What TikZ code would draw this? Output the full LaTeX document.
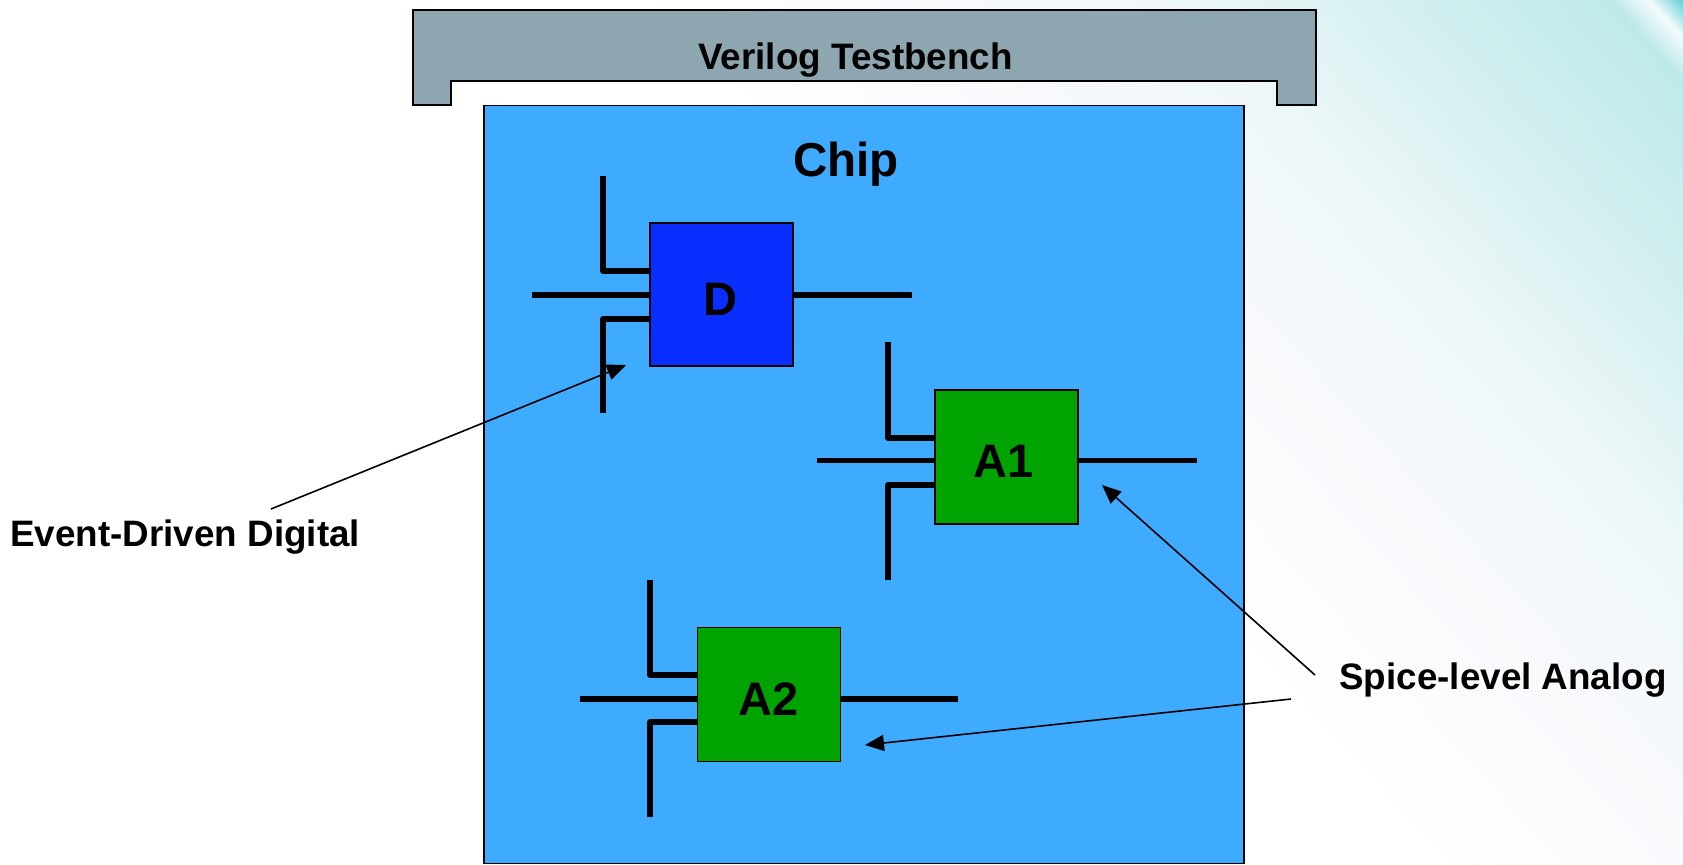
\documentclass[tikz,border=0pt]{standalone}
\usepackage{fontspec}
\setmainfont{Liberation Sans}
\definecolor{benchgray}{HTML}{8EA6B0}
\definecolor{chipblue}{HTML}{3FABFF}
\definecolor{digblue}{HTML}{0A2EFF}
\definecolor{anagreen}{HTML}{00A300}
\definecolor{bgA}{HTML}{FFFFFF}
\definecolor{bgB}{HTML}{F7F9FC}
\definecolor{bgC}{HTML}{EEF7F8}
\definecolor{bgD}{HTML}{D6F0F0}
\definecolor{bgE}{HTML}{BEE9EB}
\definecolor{bgF}{HTML}{F4FBFC}
\definecolor{bgG}{HTML}{5FCFD5}
\usetikzlibrary{arrows.meta}
\tikzset{
  outlined/.style={draw=black,line width=0.75pt},
  blockbox/.style={outlined,minimum width=71.5pt,minimum height=67pt,inner sep=0pt},
  blocktext/.style={inner sep=0pt,font=\bfseries\fontsize{23.5}{24}\selectfont},
  pin/.style={line width=2.7pt,line join=round},
  pointer/.style={line width=0.8pt,-{Triangle[length=9.5pt,width=8pt]}},
  lbl/.style={inner sep=0pt,font=\bfseries\fontsize{18.4}{20}\selectfont}
}
\begin{document}
\begin{tikzpicture}[x=0.5pt,y=-0.5pt]
\useasboundingbox (0,0) rectangle (1683,864);
\fill[white] (0,0) rectangle (1683,864);
% background wash: half-planes painted over one another along the diagonal
\begin{scope}
\clip (0,0) rectangle (1683,864);
\foreach \ua/\ub/\ca/\cb/\n in {700/1050/bgA/bgB/20,1050/1300/bgB/bgC/20,1300/1520/bgC/bgD/40,1520/1770/bgD/bgE/40,1770/1812/bgE/bgF/14,1812/1851/bgF/bgG/14}{
  \foreach \i in {0,...,\n}{
    \pgfmathsetmacro\pc{100*\i/\n}
    \pgfmathsetmacro\uc{\ua+(\ub-\ua)*\i/\n}
    \pgfmathsetmacro\xa{\uc/1.1}
    \pgfmathsetmacro\xb{(\uc+864)/1.1}
    \fill[\cb!\pc!\ca] (\xa,0) -- (1683,0) -- (1683,864) -- (\xb,864) -- cycle;
  }
}
\end{scope}
% testbench
\draw[outlined,fill=benchgray] (413,10) -- (1316,10) -- (1316,105) -- (1277,105) -- (1277,81) -- (451,81) -- (451,105) -- (413,105) -- cycle;
\node[lbl] (tb) at (855.5,60) {Verilog Testbench};
% chip
\node[outlined,fill=chipblue,minimum width=380pt,minimum height=379pt,inner sep=0pt] (chip) at (864,484.5) {};
\node[inner sep=0pt,font=\bfseries\fontsize{23.8}{24}\selectfont] (chipl) at (846,164) {Chip};
% D
\node[blockbox,fill=digblue,minimum height=71.5pt] (d) at (721.5,294.5) {};
\node[blocktext] (dl) at (720.5,299) {D};
\coordinate (d1) at (603,176); \coordinate (d2) at (532,295); \coordinate (d3) at (603,413); \coordinate (d4) at (912,295);
\draw[pin] (d1) |- (d.west |- 0,271);
\draw[pin] (d2) -- (d.west |- d2);
\draw[pin] (d3) |- (d.west |- 0,319);
\draw[pin] (d.east |- d4) -- (d4);
% A1
\node[blockbox,fill=anagreen] (a) at (1006.5,457) {};
\node[blocktext] (al) at (1004,461) {A1};
\coordinate (a1) at (888,342); \coordinate (a2) at (817,460.5); \coordinate (a3) at (888,580); \coordinate (a4) at (1197,460.5);
\draw[pin] (a1) |- (a.west |- 0,438);
\draw[pin] (a2) -- (a.west |- a2);
\draw[pin] (a3) |- (a.west |- 0,485);
\draw[pin] (a.east |- a4) -- (a4);
% A2
\node[blockbox,fill=anagreen] (b) at (769,694.5) {};
\node[blocktext] (bl) at (768.5,699) {A2};
\coordinate (b1) at (650,580); \coordinate (b2) at (580,699); \coordinate (b3) at (650,817); \coordinate (b4) at (958,699);
\draw[pin] (b1) |- (b.west |- 0,675);
\draw[pin] (b2) -- (b.west |- b2);
\draw[pin] (b3) |- (b.west |- 0,722);
\draw[pin] (b.east |- b4) -- (b4);
% labels and pointers
\node[lbl,anchor=west] (ev) at (10,537) {Event-Driven Digital};
\node[lbl,anchor=west] (sp) at (1339,680) {Spice-level Analog};
\coordinate (evs) at (271,509); \coordinate (evt) at (626,365);
\coordinate (sp1) at (1315,675); \coordinate (sp1t) at (1102,485);
\coordinate (sp2) at (1291,699); \coordinate (sp2t) at (865,745);
\draw[pointer] (evs) -- (evt);
\draw[pointer] (sp1) -- (sp1t);
\draw[pointer] (sp2) -- (sp2t);
\end{tikzpicture}
\end{document}
